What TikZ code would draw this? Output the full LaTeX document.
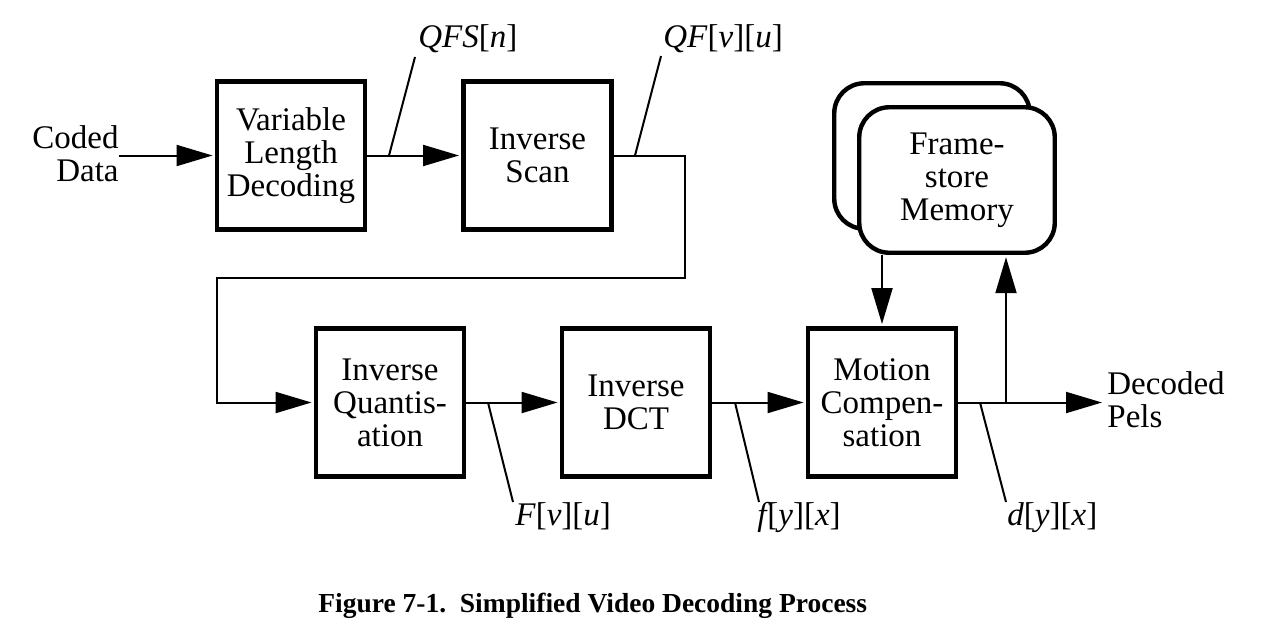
\documentclass[tikz,border=0pt]{standalone}
\usepackage{fontspec}
\setmainfont{Liberation Serif}
\usetikzlibrary{arrows.meta,calc}
\begin{document}
\begin{tikzpicture}[x=0.5pt,y=-0.5pt,
  every node/.style={font=\fontsize{16.5}{16.5}\selectfont},
  blk/.style={draw, line width=2.25pt, minimum width=74pt, minimum height=74pt, inner sep=0pt, align=center},
  mem/.style={draw, line width=2.2pt, rounded corners=15pt, minimum width=97.75pt, minimum height=72.75pt, fill=white, align=center, inner sep=0pt},
  arr/.style={line width=1pt, shorten >=1.1pt, -{Triangle[length=18pt,width=10.5pt]}},
  ln/.style={line width=1pt},
  lbl/.style={inner sep=0pt, anchor=base west},
  captxt/.style={font=\bfseries\fontsize{13.75}{16}\selectfont, anchor=base west, inner sep=0pt}
]
\useasboundingbox (0,0) rectangle (1274,638);

% blocks
\node[blk] (vld) at (291,155.5) {Variable\\Length\\Decoding};
\node[blk] (is) at (537.5,155.5) {Inverse\\Scan};
\node[blk] (iq) at (390,402.5) {Inverse\\Quantis-\\ation};
\node[blk] (idct) at (636,402.5) {Inverse\\DCT};
\node[blk] (mc) at (882,402.5) {Motion\\Compen-\\sation};
\node[mem] (fsb) at (932,156) {};
\node[mem] (fs) at (957,180) {Frame-\\store\\Memory};

% input / output texts
\node[align=right, inner sep=0pt, anchor=east] (cd) at (119,154) {Coded\\Data};
\node[align=left, inner sep=0pt, anchor=west] (dp) at (1107,400) {Decoded\\Pels};

% signal labels
\node[lbl] (qfs) at (418,47) {\textit{QFS}[\textit{n}]};
\node[lbl] (qf) at (663,47) {\textit{QF}[\textit{v}][\textit{u}]};
\node[lbl] (fvu) at (515,525) {\textit{F}[\textit{v}][\textit{u}]};
\node[lbl] (fyx) at (757,525) {\textit{f}\kern-1.5pt[\textit{y}][\textit{x}]};
\node[lbl] (dyx) at (1007,525) {\textit{d}[\textit{y}][\textit{x}]};

% coordinates
\coordinate (qfsA) at (389,155.5); \coordinate (qfsB) at (415,57);
\coordinate (qfA) at (635,155.5);  \coordinate (qfB) at (661,56);
\coordinate (fvuA) at (488,402.5); \coordinate (fvuB) at (513,502);
\coordinate (fyxA) at (735,402.5); \coordinate (fyxB) at (759,502);
\coordinate (dyxA) at (980,402.5); \coordinate (dyxB) at (1006,502);
\coordinate (t1) at (685,278); \coordinate (t2) at (217,278);
\coordinate (j) at (1006,402.5);

% connectors
\draw[arr] (cd.east |- vld.west) -- (vld.west);
\draw[arr] (vld.east) -- (is.west);
\draw[arr] (is.east) -| (t1) -- (t2) |- (iq.west);
\draw[arr] (iq.east) -- (idct.west);
\draw[arr] (idct.east) -- (mc.west);
\draw[arr, shorten >=2.5pt] (mc.east) -- (dp.west |- mc.east);
\draw[arr] (j) -- (j |- fs.south);
\draw[arr] (mc.north |- fs.south) -- (mc.north);

% label leader lines
\draw[ln] (qfsA) -- (qfsB);
\draw[ln] (qfA) -- (qfB);
\draw[ln] (fvuA) -- (fvuB);
\draw[ln] (fyxA) -- (fyxB);
\draw[ln] (dyxA) -- (dyxB);

% caption
\node[captxt] (cap) at (318,612) {Figure 7-1.~~Simplified Video Decoding Process};
\end{tikzpicture}
\end{document}
